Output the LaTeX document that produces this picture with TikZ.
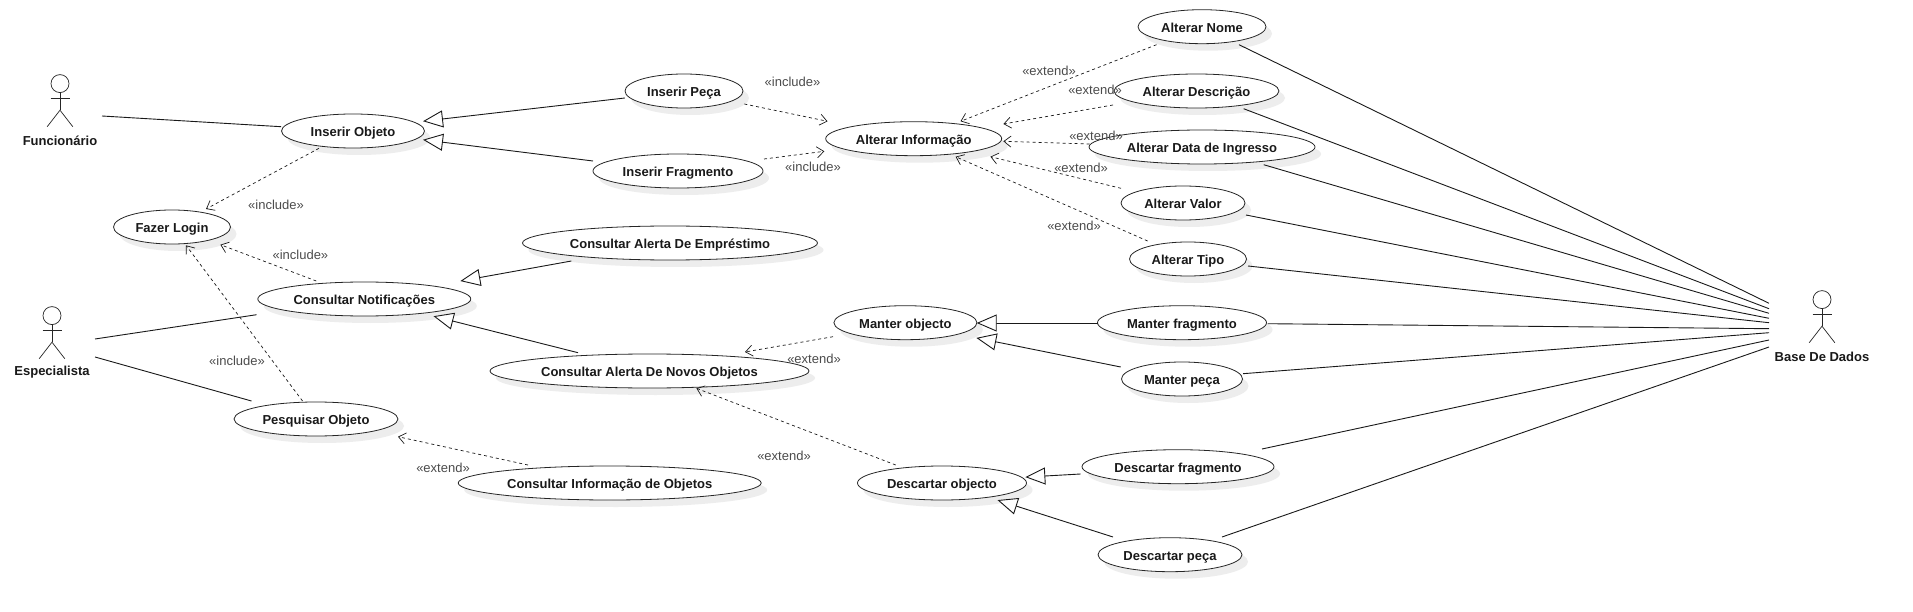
\documentclass[tikz,border=0pt]{standalone}
\usepackage{fontspec}
\setmainfont{Liberation Sans}
\usetikzlibrary{shapes.geometric,arrows.meta,shadows}
\newcommand\conn[5]{\draw[#1] ([shift={(#3)}]#2.center) -- ([shift={(#5)}]#4.center);}
\newcommand\actorfig[4]{%
  \coordinate (#1) at (#2,#3);
  \draw[actorline] ([shift={(0,-16.4)}]#1) circle[radius=9pt];
  \draw[actorline] ([shift={(0,-7.5)}]#1) -- ([shift={(0,10.2)}]#1);
  \draw[actorline] ([shift={(-9.5,-1.3)}]#1) -- ([shift={(9.5,-1.3)}]#1);
  \draw[actorline] ([shift={(-12.8,26.7)}]#1) -- ([shift={(0,10.2)}]#1) -- ([shift={(12.8,26.7)}]#1);
  \node[actorlabel] (#1-label) at ([shift={(0,40.6)}]#1) {#4};
}
\tikzset{
  x=1pt,y=-1pt,
  usecase/.style={ellipse,draw=black!85,line width=0.8pt,fill=white,inner sep=0pt,outer sep=0pt,
    minimum height=34pt,text height=13pt,text depth=2pt,font=\fontsize{13}{15}\selectfont\bfseries,text=black!90,
    general shadow={shadow xshift=6pt,shadow yshift=-7pt,fill=black!7}},
  actorline/.style={draw=black!85,line width=0.7pt},
  actorlabel/.style={font=\fontsize{13}{15}\selectfont\bfseries,text=black!90,inner sep=0pt},
  assocline/.style={draw=black!90,line width=0.9pt},
  genline/.style={draw=black!90,line width=0.9pt,shorten >=-2pt,-{Triangle[open,length=20pt,width=17pt,fill=white]}},
  depline/.style={draw=black!90,line width=0.7pt,dash pattern=on 3pt off 3pt,-{Straight Barb[length=7pt,width=11pt]}},
  stereo/.style={font=\fontsize{13}{15}\selectfont,text=black!70,inner sep=0pt},
}
\begin{document}
\begin{tikzpicture}
\path[use as bounding box,fill=white] (0,0) rectangle (1913,612);
% actors
\actorfig{fun}{60}{100}{Funcionário}
\actorfig{esp}{52}{332}{Especialista}
\actorfig{db}{1822}{316}{Base De Dados}
% use cases
\node[usecase,minimum width=143pt] (io) at (353,131) {Inserir Objeto};
\node[usecase,minimum width=118pt] (pe) at (684,91) {Inserir Peça};
\node[usecase,minimum width=170pt] (fr) at (678,171) {Inserir Fragmento};
\node[usecase,minimum width=117pt] (fl) at (172,227) {Fazer Login};
\node[usecase,minimum width=213pt] (cn) at (364.3,299) {Consultar Notificações};
\node[usecase,minimum width=295pt] (ca) at (670,243) {Consultar Alerta De Empréstimo};
\node[usecase,minimum width=319pt] (cnov) at (649.5,371) {Consultar Alerta De Novos Objetos};
\node[usecase,minimum width=164pt] (po) at (316,419) {Pesquisar Objeto};
\node[usecase,minimum width=303pt] (ci) at (609.7,483) {Consultar Informação de Objetos};
\node[usecase,minimum width=176pt] (ai) at (913.7,138.7) {Alterar Informação};
\node[usecase,minimum width=128pt] (an) at (1202,26.7) {Alterar Nome};
\node[usecase,minimum width=165pt] (ad) at (1196.5,91) {Alterar Descrição};
\node[usecase,minimum width=226pt] (ada) at (1202,147) {Alterar Data de Ingresso};
\node[usecase,minimum width=124pt] (av) at (1183,203) {Alterar Valor};
\node[usecase,minimum width=117pt] (ati) at (1188,259) {Alterar Tipo};
\node[usecase,minimum width=143pt] (mo) at (905.4,322.7) {Manter objecto};
\node[usecase,minimum width=169pt] (mf) at (1182,322.7) {Manter fragmento};
\node[usecase,minimum width=121pt] (mp) at (1182,379) {Manter peça};
\node[usecase,minimum width=169pt] (dobj) at (942,483) {Descartar objecto};
\node[usecase,minimum width=192pt] (df) at (1178,466.7) {Descartar fragmento};
\node[usecase,minimum width=144pt] (dp) at (1170,554.7) {Descartar peça};
% associations
\conn{assocline}{fun}{42,16}{io}{-72,-4.3}
\conn{assocline}{esp}{43,7}{cn}{-107.7,15.7}
\conn{assocline}{esp}{43,25}{po}{-64.5,-18}
\conn{assocline}{an}{37,18}{db}{-53,-12.7}
\conn{assocline}{ad}{47.1,17.7}{db}{-53,-7.3}
\conn{assocline}{ada}{61.7,17.7}{db}{-53,-2.7}
\conn{assocline}{av}{63,12}{db}{-53,2.3}
\conn{assocline}{ati}{60,7}{db}{-53,6.7}
\conn{assocline}{mf}{85.7,1}{db}{-53,12.7}
\conn{assocline}{mp}{61,-5.3}{db}{-53,16.7}
\conn{assocline}{df}{84,-17.7}{db}{-53,24}
\conn{assocline}{dp}{52,-17.7}{db}{-53,31}
% generalisations
\conn{genline}{pe}{-59.2,7}{io}{72,-10}
\conn{genline}{fr}{-85,-10}{io}{72,9}
\conn{genline}{ca}{-98.6,18}{cn}{98,-18.3}
\conn{genline}{cnov}{-71.5,-18.3}{cn}{71.2,17.7}
\conn{genline}{mf}{-84.3,0.3}{mo}{73.3,0.3}
\conn{genline}{mp}{-61.3,-12}{mo}{72.9,15.6}
\conn{genline}{df}{-97.5,7.3}{dobj}{85.3,-6}
\conn{genline}{dp}{-57,-17.7}{dobj}{57.4,17.7}
% dependencies
\conn{depline}{io}{-34,17.3}{fl}{34,-18}
\conn{depline}{cn}{-48,-18}{fl}{48.4,17.7}
\conn{depline}{po}{-13.5,-18}{fl}{14,18.3}
\conn{depline}{pe}{60.3,13}{ai}{-86.2,-17.4}
\conn{depline}{fr}{86,-12}{ai}{-89.3,12.6}
\conn{depline}{an}{-45.5,18}{ai}{46.8,-17.4}
\conn{depline}{ad}{-83.5,14}{ai}{89.7,-14.7}
\conn{depline}{ada}{-112.5,-3}{ai}{89.7,2.6}
\conn{depline}{av}{-62,-14.7}{ai}{76.7,18}
\conn{depline}{ati}{-40.4,-18}{ai}{41.9,18}
\conn{depline}{mo}{-72.4,14}{cnov}{95.5,-19}
\conn{depline}{dobj}{-46.3,-18}{cnov}{46.9,17.3}
\conn{depline}{ci}{-81.7,-18}{po}{82,17.7}
% stereotypes
\node[stereo] (s1) at (276,205.2) {«include»};
\node[stereo] (s2) at (300.4,255.2) {«include»};
\node[stereo] (s3) at (237,360.5) {«include»};
\node[stereo] (s4) at (792.5,82.2) {«include»};
\node[stereo] (s5) at (813,167.2) {«include»};
\node[stereo] (s6) at (1049,71.2) {«extend»};
\node[stereo] (s7) at (1095,89.8) {«extend»};
\node[stereo] (s8) at (1096,135.7) {«extend»};
\node[stereo] (s9) at (1081,167.7) {«extend»};
\node[stereo] (s10) at (1074,225.5) {«extend»};
\node[stereo] (s11) at (814,359.2) {«extend»};
\node[stereo] (s12) at (784,455.5) {«extend»};
\node[stereo] (s13) at (443,468.2) {«extend»};
\end{tikzpicture}
\end{document}
